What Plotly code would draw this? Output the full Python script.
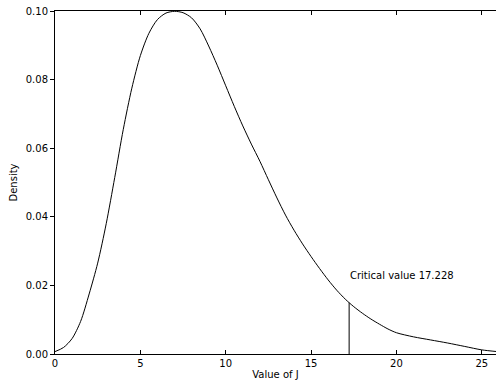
import plotly.graph_objects as go
import numpy as np

# Density curve
j_values = [0, 0.5, 1.0, 1.5, 2.0, 2.5, 3.0, 3.5, 4.0, 4.5, 5.0, 5.5, 6.0, 6.5, 7.0, 7.5,
            8.0, 8.5, 9.0, 9.5, 10.0, 10.5, 11.0, 11.5, 12.0, 12.5, 13.0, 13.5, 14.0, 14.5,
            15.0, 15.5, 16.0, 16.5, 17.0, 17.5, 18.0, 18.5, 19.0, 19.5, 20.0, 21.0, 22.0,
            23.0, 24.0, 25.0, 25.9]
density = [0.0007, 0.0019, 0.0045, 0.0095, 0.0175, 0.0265, 0.038, 0.0515, 0.0655, 0.0775,
           0.087, 0.0935, 0.0975, 0.0994, 0.0999, 0.0995, 0.098, 0.0948, 0.0898, 0.0842,
           0.0782, 0.0722, 0.0665, 0.0612, 0.0562, 0.0508, 0.0455, 0.0405, 0.0361, 0.0321,
           0.0284, 0.0249, 0.0216, 0.0186, 0.0160, 0.0138, 0.0119, 0.0102, 0.0087, 0.0073,
           0.0062, 0.0050, 0.0041, 0.0032, 0.0022, 0.0012, 0.0007]
critical_value = 17.228
critical_label = "Critical value 17.228"
x_ticks = [0, 5, 10, 15, 20, 25]
y_ticks = [0.00, 0.02, 0.04, 0.06, 0.08, 0.10]

crit_height = float(np.interp(critical_value, j_values, density))

fig = go.Figure()
fig.add_trace(go.Scatter(x=j_values, y=density, mode="lines",
                         line=dict(color="black", width=1, shape="spline", smoothing=0.8),
                         showlegend=False, hoverinfo="skip"))
fig.add_trace(go.Scatter(x=[critical_value, critical_value], y=[0, crit_height], mode="lines",
                         line=dict(color="black", width=1), showlegend=False, hoverinfo="skip"))

fig.add_annotation(x=critical_value, y=0.023, text=critical_label, showarrow=False,
                   xanchor="left", yanchor="middle", xshift=-1,
                   font=dict(family="DejaVu Sans", size=10, color="black"))

fig.update_layout(
    width=496, height=387,
    margin=dict(l=55, r=0, t=11, b=33),
    paper_bgcolor="white", plot_bgcolor="white",
    font=dict(family="DejaVu Sans", size=10, color="black"),
)
fig.update_xaxes(range=[0, 25.83], tickvals=x_ticks, ticks="inside", ticklen=4,
                 tickcolor="black", showline=True, linecolor="black", linewidth=1,
                 mirror="ticks", showgrid=False, zeroline=False,
                 title=dict(text="Value of J", standoff=2, font=dict(size=10)))
fig.update_yaxes(range=[0, 0.1], tickvals=y_ticks, tickformat=".2f", ticks="outside",
                 ticklen=4, tickcolor="black", showline=True, linecolor="black",
                 linewidth=1, showgrid=False, zeroline=False,
                 title=dict(text="Density", standoff=6, font=dict(size=10)))

fig.write_html("out.html")
